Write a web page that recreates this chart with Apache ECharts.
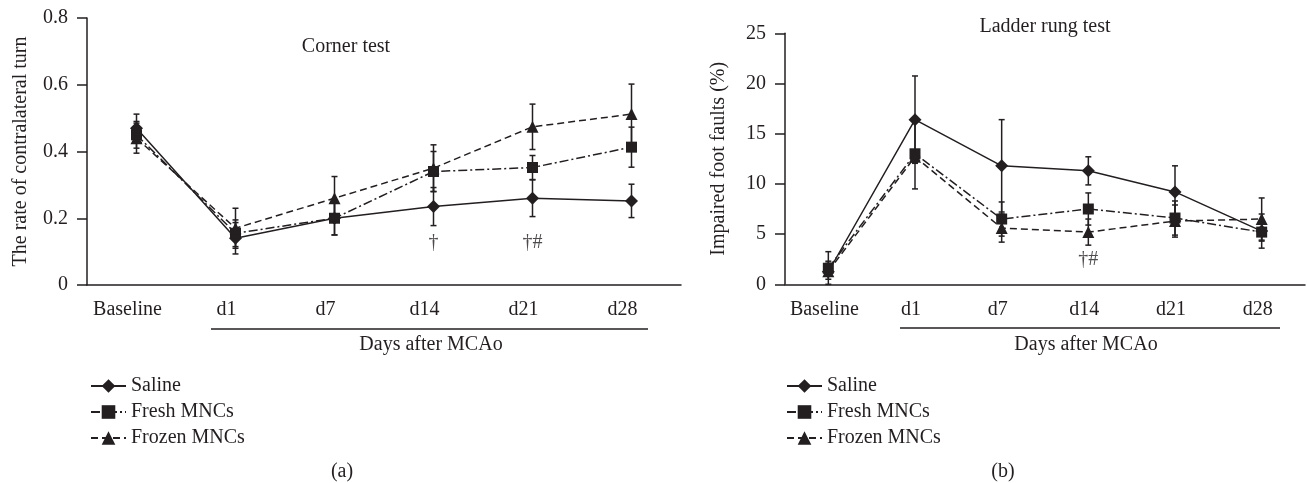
<!DOCTYPE html>
<html>
<head>
<meta charset="utf-8">
<script src="https://cdn.jsdelivr.net/npm/echarts@6/dist/echarts.min.js"></script>
<style>
  html, body { margin: 0; background: #fff; }
  #chart { width: 1307px; height: 483px; }
</style>
</head>
<body>
<div id="chart"></div>
<script>
// categories
const days = ['Baseline', 'd1', 'd7', 'd14', 'd21', 'd28'];
const groups = ['Saline', 'Fresh MNCs', 'Frozen MNCs'];

// (a) corner test: rate of contralateral turn (mean, error)
const cornerSaline = [0.47, 0.14, 0.20, 0.235, 0.26, 0.252];
const cornerSalineErr = [0.042, 0.047, 0.05, 0.057, 0.055, 0.05];
const cornerFresh = [0.45, 0.155, 0.20, 0.34, 0.352, 0.413];
const cornerFreshErr = [0.04, 0.04, 0.05, 0.06, 0.036, 0.06];
const cornerFrozen = [0.44, 0.17, 0.26, 0.35, 0.474, 0.512];
const cornerFrozenErr = [0.045, 0.06, 0.065, 0.07, 0.068, 0.09];
const cornerMarks = [['d14', 0.128, '†'], ['d21', 0.128, '†#']];

// (b) ladder rung test: impaired foot faults % (mean, error)
const ladderSaline = [1.25, 16.4, 11.8, 11.3, 9.2, 5.3];
const ladderSalineErr = [2.0, 4.35, 4.6, 1.4, 2.6, 1.7];
const ladderFresh = [1.6, 13.0, 6.5, 7.5, 6.6, 5.2];
const ladderFreshErr = [0.7, 3.5, 1.7, 1.6, 1.7, 0.9];
const ladderFrozen = [1.3, 12.7, 5.6, 5.2, 6.3, 6.5];
const ladderFrozenErr = [0.8, 0.6, 1.4, 1.3, 1.6, 2.1];
const ladderMarks = [['d14', 2.4, '†#']];

const ink = '#231f20';
const fontFamily = '"Liberation Serif", "DejaVu Serif", serif';
const fs = 20;

const symbols = ['diamond', 'rect', 'triangle'];
const symbolSizes = [[13, 13], 11, 12];
const dashes = ['solid', [9, 3, 2, 3], [7, 4]];

const lineSeries = (name, idx, values, axis) => ({
    name,
    type: 'line',
    xAxisIndex: axis,
    yAxisIndex: axis,
    data: values,
    symbol: symbols[idx],
    symbolSize: symbolSizes[idx],
    showAllSymbol: true,
    itemStyle: { color: ink },
    lineStyle: { color: ink, width: 1.5, type: dashes[idx] },
    z: 3,
});

// error bars drawn with a custom series (vertical line + caps)
const errorSeries = (name, values, errs, axis) => ({
    name: name + ' (error)',
    type: 'custom',
    xAxisIndex: axis,
    yAxisIndex: axis,
    data: values.map((v, i) => [i, Math.max(0, v - errs[i]), v + errs[i]]),
    renderItem: (params, api) => {
        const lo = api.coord([api.value(0), api.value(1)]);
        const hi = api.coord([api.value(0), api.value(2)]);
        const w = 3;
        const style = { stroke: ink, lineWidth: 1.5 };
        return {
            type: 'group',
            children: [
                { type: 'line', shape: { x1: lo[0], y1: lo[1], x2: hi[0], y2: hi[1] }, style },
                { type: 'line', shape: { x1: lo[0] - w, y1: lo[1], x2: lo[0] + w, y2: lo[1] }, style },
                { type: 'line', shape: { x1: hi[0] - w, y1: hi[1], x2: hi[0] + w, y2: hi[1] }, style },
            ],
        };
    },
    z: 2,
});

const markSeries = (marks, axis) => ({
    name: 'marks',
    type: 'scatter',
    xAxisIndex: axis,
    yAxisIndex: axis,
    symbolSize: 0,
    data: marks.map(m => ({ value: [m[0], m[1]], label: { formatter: m[2] } })),
    label: { show: true, position: 'inside', color: ink, fontFamily, fontSize: fs },
    silent: true,
});

const axisStyle = { lineStyle: { color: ink, width: 1.5 } };

const xAxisOf = (grid, pad) => ({
    type: 'category',
    gridIndex: grid,
    data: days,
    axisLine: axisStyle,
    axisTick: { length: 8, lineStyle: { color: ink, width: 1.5 } },
    axisLabel: { interval: 0, color: ink, fontFamily, fontSize: fs, margin: 15, padding: [0, pad, 0, 0] },
});

const yAxisOf = (grid, max, interval, name) => ({
    type: 'value',
    gridIndex: grid,
    min: 0,
    max,
    interval,
    name,
    nameLocation: 'middle',
    nameGap: 56,
    nameTextStyle: { color: ink, fontFamily, fontSize: fs },
    axisLine: { show: true, ...axisStyle },
    axisTick: { show: true, length: 10, lineStyle: { color: ink, width: 1.5 } },
    axisLabel: { color: ink, fontFamily, fontSize: fs, margin: 19 },
    splitLine: { show: false },
});

const legendOf = left => ({
    left,
    top: 371,
    orient: 'vertical',
    itemWidth: 35,
    itemHeight: 17,
    itemGap: 6,
    data: groups,
    selectedMode: false,
    textStyle: { color: ink, fontFamily, fontSize: fs },
});

const text = (x, y, str) => ({
    type: 'text',
    x,
    y,
    style: { text: str, fill: ink, font: fs + 'px ' + fontFamily, textAlign: 'center', textVerticalAlign: 'middle' },
});

const rule = (x1, x2, y) => ({
    type: 'line',
    shape: { x1, y1: y, x2, y2: y },
    style: { stroke: ink, lineWidth: 1.5 },
});

const chart = echarts.init(document.getElementById('chart'));
chart.setOption({
    animation: false,
    backgroundColor: '#fff',
    grid: [
        { left: 87, top: 18, width: 594, height: 267, outerBoundsMode: 'none' },
        { left: 785, top: 33.3, width: 520, height: 251, outerBoundsMode: 'none' },
    ],
    xAxis: [xAxisOf(0, 18), xAxisOf(1, 8)],
    yAxis: [
        yAxisOf(0, 0.8, 0.2, 'The rate of contralateral turn'),
        yAxisOf(1, 25, 5, 'Impaired foot faults (%)'),
    ],
    legend: [legendOf(85), legendOf(781)],
    graphic: [
        text(346, 47, 'Corner test'),
        text(1045, 27, 'Ladder rung test'),
        rule(211, 648, 329),
        rule(900, 1280, 328),
        text(431, 345, 'Days after MCAo'),
        text(1086, 345, 'Days after MCAo'),
        text(342, 472, '(a)'),
        text(1003, 472, '(b)'),
    ],
    series: [
        lineSeries('Saline', 0, cornerSaline, 0),
        lineSeries('Fresh MNCs', 1, cornerFresh, 0),
        lineSeries('Frozen MNCs', 2, cornerFrozen, 0),
        errorSeries('Saline', cornerSaline, cornerSalineErr, 0),
        errorSeries('Fresh MNCs', cornerFresh, cornerFreshErr, 0),
        errorSeries('Frozen MNCs', cornerFrozen, cornerFrozenErr, 0),
        markSeries(cornerMarks, 0),
        lineSeries('Saline', 0, ladderSaline, 1),
        lineSeries('Fresh MNCs', 1, ladderFresh, 1),
        lineSeries('Frozen MNCs', 2, ladderFrozen, 1),
        errorSeries('Saline', ladderSaline, ladderSalineErr, 1),
        errorSeries('Fresh MNCs', ladderFresh, ladderFreshErr, 1),
        errorSeries('Frozen MNCs', ladderFrozen, ladderFrozenErr, 1),
        markSeries(ladderMarks, 1),
    ],
});
</script>
</body>
</html>
